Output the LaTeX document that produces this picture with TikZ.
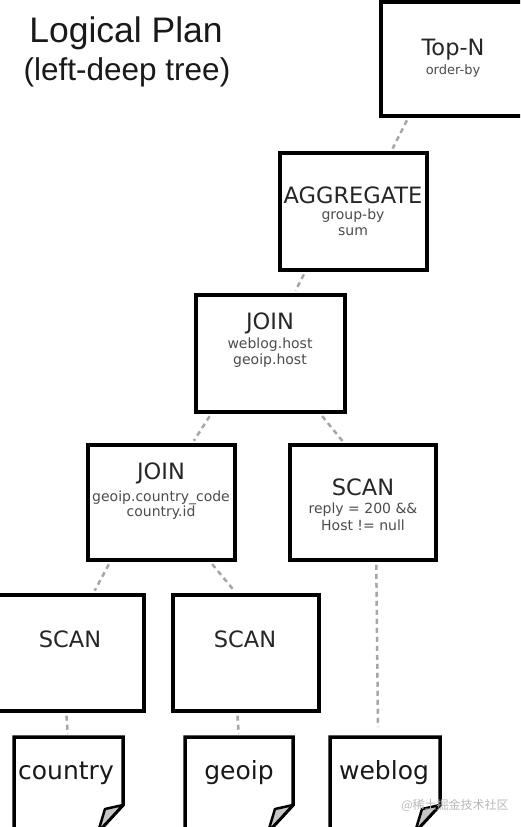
\documentclass[tikz,border=0pt]{standalone}
\usepackage{fontspec}
\setmainfont{DejaVu Sans}
\newfontfamily\titlefont{Liberation Sans}
\newfontfamily\cjkfont{Noto Sans CJK SC}
\begin{document}
\begin{tikzpicture}[x=1pt,y=-1pt,
  box/.style={draw=black, line width=3.5pt, rectangle, inner sep=0pt, fill=white},
  link/.style={draw=gray!70, line width=2.5pt, dash pattern=on 5pt off 4pt, shorten <=3pt, shorten >=3pt},
  doc/.style={draw=black, line width=3.5pt, fill=white, line join=miter},
  flap/.style={draw=black, line width=2.5pt, fill=gray!45, line join=round},
  ttl/.style={font=\titlefont, text=black!90, anchor=base, inner sep=0pt},
  hdr/.style={font=\fontsize{22.5}{25}\selectfont, text=black!85, inner sep=0pt},
  sub/.style={font=\fontsize{14}{16}\selectfont, text=black!70, inner sep=0pt},
  doclbl/.style={font=\fontsize{25}{28}\selectfont, text=black!90, inner sep=0pt}]
\useasboundingbox (0,0) rectangle (520,827);
\clip (0,0) rectangle (520,827);
\fill[white] (0,0) rectangle (520,827);

% title
\node[ttl, font=\titlefont\fontsize{35.5}{38}\selectfont] (t1) at (126,42) {Logical Plan};
\node[ttl, font=\titlefont\fontsize{31.5}{34}\selectfont] (t2) at (127,80) {(left-deep tree)};

% operator boxes
\node[box, minimum width=143pt, minimum height=114pt] (topn)  at (452.5,59) {};
\node[box, minimum width=147pt, minimum height=117pt] (agg)   at (353.5,211.5) {};
\node[box, minimum width=149pt, minimum height=117pt] (join1) at (270.5,353.5) {};
\node[box, minimum width=147pt, minimum height=115pt] (join2) at (161.5,502.5) {};
\node[box, minimum width=146pt, minimum height=115pt] (scan3) at (363,502.5) {};
\node[box, minimum width=148pt, minimum height=116pt] (scan1) at (70,653) {};
\node[box, minimum width=146pt, minimum height=116pt] (scan2) at (246,653) {};

% box texts
\node[hdr] (topnh) at (453,50) {Top-N};
\node[sub, font=\fontsize{13}{15}\selectfont] (topns) at (453,71) {order-by};
\node[hdr] (aggh) at (353,195) {AGGREGATE};
\node[sub] (aggs1) at (353,216) {group-by};
\node[sub] (aggs2) at (353,232) {sum};
\node[hdr] (j1h) at (270,323) {JOIN};
\node[sub] (j1s1) at (270,345) {weblog.host};
\node[sub] (j1s2) at (270,361) {geoip.host};
\node[hdr] (j2h) at (161,473) {JOIN};
\node[sub] (j2s1) at (161,498) {geoip.country\_code};
\node[sub] (j2s2) at (161,513) {country.id};
\node[hdr] (s3h) at (363,487) {SCAN};
\node[sub] (s3s1) at (363,510) {reply = 200 \&\&};
\node[sub] (s3s2) at (363,525) {Host != null};
\node[hdr] (s1h) at (70,639) {SCAN};
\node[hdr] (s2h) at (245,639) {SCAN};

% documents
\draw[doc] (14,737) -- (123,737) -- (123,805) -- (98,832) -- (14,832) -- cycle;
\draw[flap] (123,805) -- (105,809) -- (98,832) -- cycle;
\draw[doc] (185,737) -- (293,737) -- (293,805) -- (268,832) -- (185,832) -- cycle;
\draw[flap] (293,805) -- (275,809) -- (268,832) -- cycle;
\draw[doc] (330,737) -- (440,737) -- (440,805) -- (415,832) -- (330,832) -- cycle;
\draw[flap] (440,805) -- (422,809) -- (415,832) -- cycle;
\coordinate (countrytop) at (68,737);
\coordinate (geoiptop) at (239,737);
\coordinate (weblogtop) at (378,730);
\node[doclbl] (country) at (66,773) {country};
\node[doclbl] (geoip) at (239,773) {geoip};
\node[doclbl] (weblog) at (384,773) {weblog};

% connectors
\draw[link] ([xshift=29pt]topn.south west) -- ([xshift=113pt]agg.north west);
\draw[link] ([xshift=27pt]agg.south west) -- ([xshift=100pt]join1.north west);
\draw[link] ([xshift=17pt]join1.south west) -- ([xshift=106pt]join2.north west);
\draw[link] ([xshift=126pt]join1.south west) -- ([xshift=56pt]scan3.north west);
\draw[link] ([xshift=24pt]join2.south west) -- ([xshift=99pt]scan1.north west);
\draw[link] ([xshift=124pt]join2.south west) -- ([xshift=65pt]scan2.north west);
\draw[link] ([xshift=88pt]scan3.south west) -- (weblogtop);
\draw[link] ([xshift=72pt]scan1.south west) -- (countrytop);
\draw[link] ([xshift=66pt]scan2.south west) -- (geoiptop);

% watermark
\node[font=\cjkfont\fontsize{12}{14}\selectfont, text=gray!55, inner sep=0pt] (wm) at (455,805) {@稀土掘金技术社区};
\end{tikzpicture}
\end{document}
